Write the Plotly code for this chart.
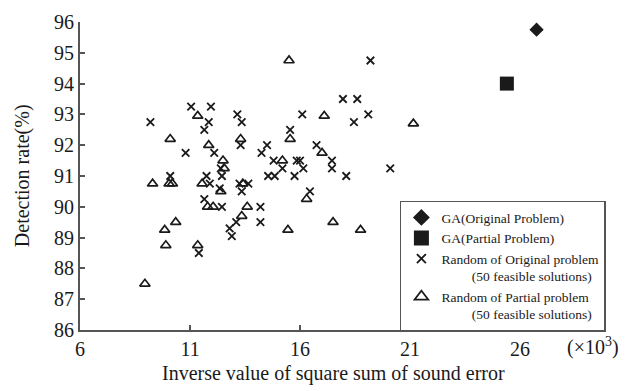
import plotly.graph_objects as go

# GA results
ga_orig_x = [26.75]
ga_orig_y = [95.75]
ga_part_x = [25.4]
ga_part_y = [94.0]

# Random of Original problem (x marks)
orig_x = [9.2, 10.1, 10.8, 11.05, 11.95, 11.85, 11.65, 12.1, 11.75, 11.9,
          12.35, 11.65, 12.45, 11.4, 12.8, 12.9, 13.1, 13.15, 13.35, 13.3,
          13.25, 13.65, 13.35, 14.2, 14.2, 14.5, 14.25, 14.8, 15.2, 14.55,
          14.85, 15.85, 16.0, 16.15, 15.75, 16.45, 15.55, 16.1, 16.75, 17.45,
          17.45, 18.1, 17.95, 18.6, 19.1, 18.45, 19.2, 20.1, 12.4, 12.45]
orig_y = [92.75, 91.0, 91.75, 93.25, 93.25, 92.75, 92.5, 91.75, 91.0, 90.75,
          90.6, 90.25, 90.0, 88.5, 89.3, 89.05, 89.5, 93.0, 92.75, 92.0,
          90.75, 90.75, 90.5, 90.0, 89.5, 92.0, 91.75, 91.5, 91.25, 91.0,
          91.0, 91.5, 91.5, 91.25, 91.0, 90.5, 92.5, 93.0, 92.0, 91.5,
          91.25, 91.0, 93.5, 93.5, 93.0, 92.75, 94.75, 91.25, 91.25, 91.0]

# Random of Partial problem (triangles)
part_x = [8.95, 9.3, 10.05, 10.2, 10.1, 9.85, 9.9, 10.35, 11.35, 11.35,
          11.85, 11.55, 11.8, 12.05, 12.4, 12.5, 12.55, 13.3, 13.4, 13.6,
          13.35, 15.2, 15.55, 15.5, 16.3, 15.45, 17.1, 17.0, 17.5, 18.75, 21.15]
part_y = [87.5, 90.75, 90.75, 90.75, 92.2, 89.25, 88.75, 89.5, 88.75, 92.95,
          92.0, 90.75, 90.0, 90.0, 90.5, 91.5, 91.25, 92.2, 90.75, 90.0,
          89.7, 91.5, 92.2, 94.75, 90.25, 89.25, 92.95, 91.75, 89.5, 89.25, 92.7]

x_ticks = [6, 11, 16, 21, 26]
y_ticks = [86, 87, 88, 89, 90, 91, 92, 93, 94, 95, 96]

legend_names = [
    "GA(Original Problem)",
    "GA(Partial Problem)",
    "Random of Original problem<br>" + "\u00a0" * 9 + "(50 feasible solutions)",
    "Random of Partial problem<br>" + "\u00a0" * 9 + "(50 feasible solutions)",
]

SERIF = "Liberation Serif, Times New Roman, serif"
INK = "#1a1a1a"
AX = "#555555"

fig = go.Figure()
# data traces
fig.add_trace(go.Scatter(
    x=ga_orig_x, y=ga_orig_y, mode="markers", showlegend=False,
    marker=dict(symbol="diamond", size=11, color=INK, line=dict(width=0))))
fig.add_trace(go.Scatter(
    x=ga_part_x, y=ga_part_y, mode="markers", showlegend=False,
    marker=dict(symbol="square", size=14, color=INK, line=dict(width=0))))
fig.add_trace(go.Scatter(
    x=orig_x, y=orig_y, mode="markers", showlegend=False,
    marker=dict(symbol="x-thin", size=7.5, color=INK, line=dict(width=1.8, color=INK))))
fig.add_trace(go.Scatter(
    x=part_x, y=part_y, mode="markers", showlegend=False,
    marker=dict(symbol="triangle-up-open", size=9, color=INK, line=dict(width=1.7, color=INK))))

# legend entries (larger symbols, as in the reference legend)
leg_markers = [
    dict(symbol="diamond", size=13, color=INK, line=dict(width=0)),
    dict(symbol="square", size=15, color=INK, line=dict(width=0)),
    dict(symbol="x-thin", size=9, color=INK, line=dict(width=1.8, color=INK)),
    dict(symbol="triangle-up-open", size=12, color=INK, line=dict(width=1.7, color=INK)),
]
for name, mk in zip(legend_names, leg_markers):
    fig.add_trace(go.Scatter(x=[None], y=[None], mode="markers", name=name, marker=mk))

fig.update_layout(
    width=642, height=391,
    margin=dict(l=80, r=59, t=11, b=61),
    paper_bgcolor="white", plot_bgcolor="white",
    font=dict(family=SERIF, size=20, color=INK),
    showlegend=True,
    legend=dict(
        x=0.636, y=0.42, xanchor="left", yanchor="top",
        bgcolor="white", bordercolor=AX, borderwidth=1.5,
        font=dict(family=SERIF, size=13.5, color=INK),
        valign="top", tracegroupgap=0,
    ),
    xaxis=dict(
        range=[6, 28.86], tickmode="array", tickvals=x_ticks,
        ticktext=[str(v) for v in x_ticks],
        showgrid=False, zeroline=False, showline=True, linecolor=AX, linewidth=2,
        ticks="inside", ticklen=5, tickwidth=1.5, tickcolor=AX,
        tickfont=dict(family=SERIF, size=20, color=INK),
    ),
    yaxis=dict(
        range=[86, 96], tickmode="array", tickvals=y_ticks,
        ticktext=[str(v) for v in y_ticks],
        showgrid=False, zeroline=False, showline=True, linecolor=AX, linewidth=2,
        ticks="inside", ticklen=5, tickwidth=1.5, tickcolor=AX,
        tickfont=dict(family=SERIF, size=20, color=INK),
    ),
    annotations=[
        dict(text="Inverse value of square sum of sound error", xref="paper", yref="paper",
             x=0.503, y=-0.141, xanchor="center", yanchor="middle", showarrow=False,
             font=dict(family=SERIF, size=20, color=INK)),
        dict(text="Detection rate(%)", xref="paper", yref="paper",
             x=-0.115, y=0.5, xanchor="center", yanchor="middle", showarrow=False,
             textangle=-90, font=dict(family=SERIF, size=20, color=INK)),
        dict(text="(×10<sup>3</sup>)", xref="paper", yref="paper",
             x=0.964, y=-0.053, xanchor="left", yanchor="middle", showarrow=False,
             font=dict(family=SERIF, size=20, color=INK)),
    ],
)

fig.write_html("out.html")
